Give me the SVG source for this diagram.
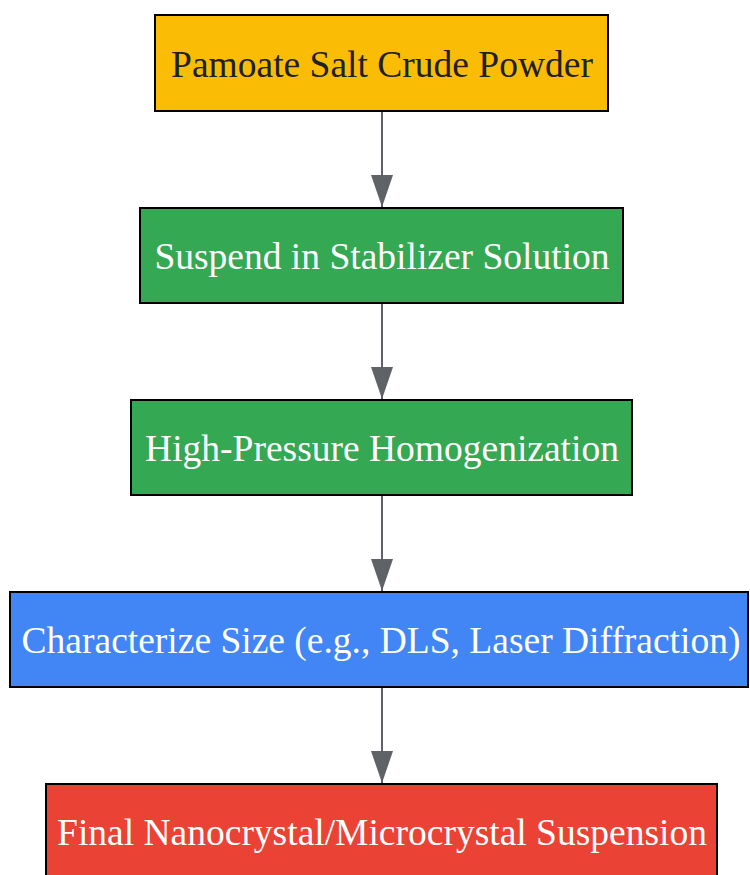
<svg xmlns="http://www.w3.org/2000/svg" width="750" height="875" viewBox="0 0 750 875">
<style>
.box{stroke:#000;stroke-width:2}
.t{font-family:"Liberation Serif","Times New Roman",serif;font-size:37.5px;text-anchor:middle;fill:#fff}
.e{stroke:#5F6368;stroke-width:2;fill:none}
</style>
<defs>
<marker id="ah" markerWidth="32" markerHeight="22" refX="32" refY="11" orient="auto" markerUnits="userSpaceOnUse" viewBox="0 0 32 22">
<path d="M0,0 L32,11 L0,22 Z" fill="#5F6368"/>
</marker>
</defs>
<rect width="750" height="875" fill="#fff"/>
<g id="edges">
<line class="e" x1="382" y1="112" x2="382" y2="207" marker-end="url(#ah)"/>
<line class="e" x1="382" y1="304" x2="382" y2="399" marker-end="url(#ah)"/>
<line class="e" x1="382" y1="496" x2="382" y2="591" marker-end="url(#ah)"/>
<line class="e" x1="382" y1="688" x2="382" y2="783" marker-end="url(#ah)"/>
</g>
<g id="n1"><rect class="box" x="155" y="15" width="453" height="96" fill="#FBBC05"/><text class="t" x="382" y="77" style="fill:#202124">Pamoate Salt Crude Powder</text></g>
<g id="n2"><rect class="box" x="140" y="208" width="483" height="95" fill="#34A853"/><text class="t" x="382" y="269">Suspend in Stabilizer Solution</text></g>
<g id="n3"><rect class="box" x="131" y="400" width="501" height="95" fill="#34A853"/><text class="t" x="382" y="461">High-Pressure Homogenization</text></g>
<g id="n4"><rect class="box" x="10" y="592" width="738" height="95" fill="#4285F4"/><text class="t" x="381" y="653">Characterize Size (e.g., DLS, Laser Diffraction)</text></g>
<g id="n5"><rect class="box" x="46" y="784" width="671" height="96" fill="#EA4335"/><text class="t" x="382" y="845">Final Nanocrystal/Microcrystal Suspension</text></g>
</svg>
